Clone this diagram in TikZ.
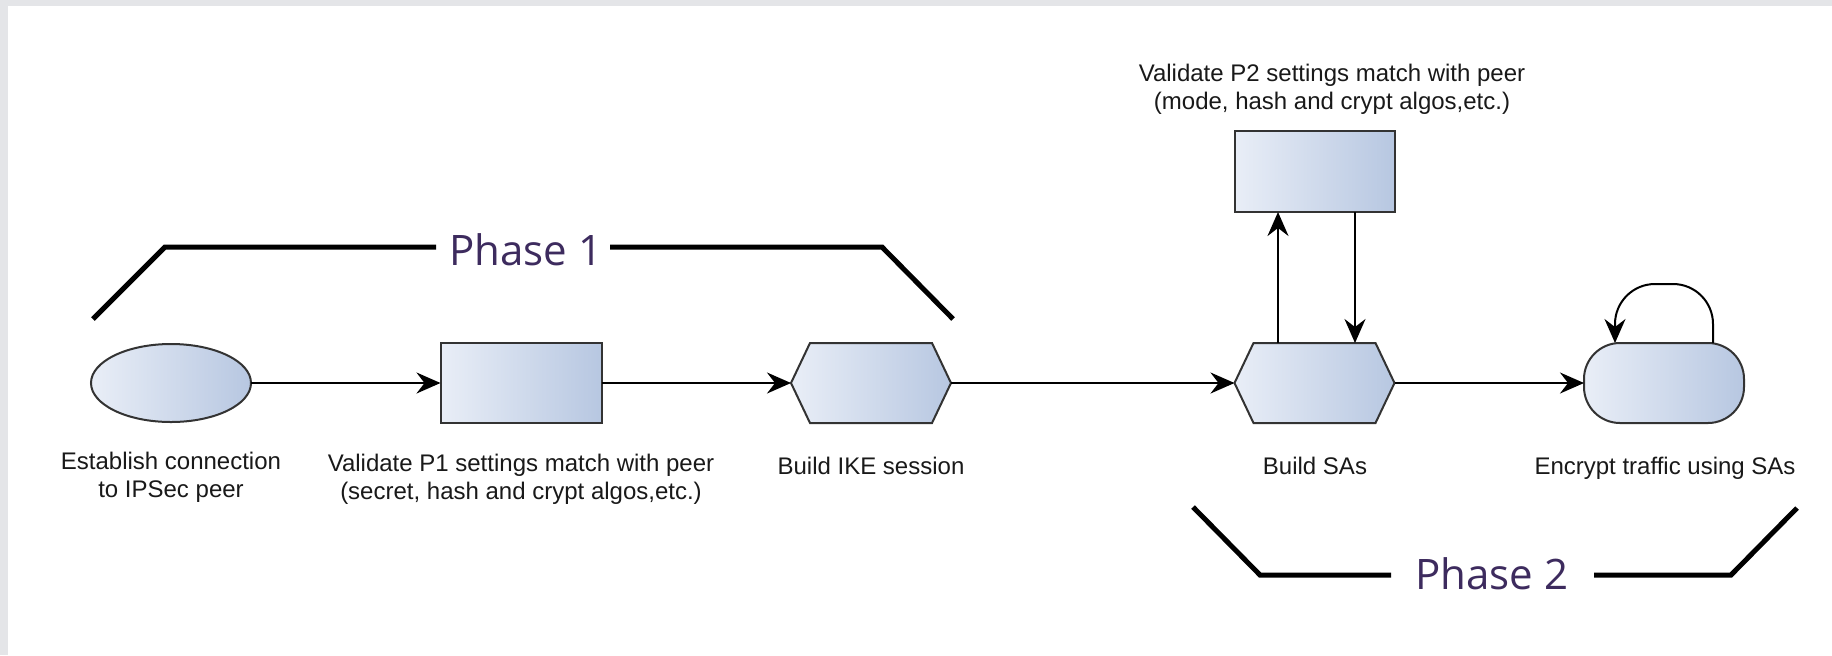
\documentclass[tikz,border=0pt]{standalone}
\usepackage{fontspec}
\setmainfont{Liberation Sans}
\newfontfamily\phasefont{Open Sans}
\usetikzlibrary{shapes.geometric,arrows.meta}

\definecolor{fillA}{HTML}{E9EEF7}
\definecolor{fillB}{HTML}{B7C7E1}
\definecolor{edgegray}{HTML}{333333}
\definecolor{phasepurple}{HTML}{3D2B5E}
\definecolor{framegray}{HTML}{E4E5E8}

\begin{document}
\begin{tikzpicture}[x=0.5pt,y=-0.5pt,
  shapefill/.style={draw=edgegray, line width=1pt, left color=fillA, right color=fillB},
  procbox/.style={shapefill, rectangle, inner sep=0pt, outer sep=0pt, minimum width=80.5pt, minimum height=40pt},
  startoval/.style={shapefill, ellipse, inner sep=0pt, outer sep=0pt, minimum width=80pt, minimum height=39pt},
  hexholder/.style={rectangle, inner sep=0pt, outer sep=0pt, minimum width=80pt, minimum height=40pt},
  pillbox/.style={shapefill, rectangle, rounded corners=18pt, inner sep=0pt, outer sep=0pt, minimum width=80pt, minimum height=40pt},
  arr/.style={-{Stealth[length=12pt,width=10.5pt,inset=4pt]}, line width=1pt, black},
  lbl/.style={font=\fontsize{12pt}{13.8pt}\selectfont, align=center, text=black!90, inner sep=0pt},
  phasetxt/.style={font=\phasefont\fontsize{21pt}{25pt}\selectfont, text=phasepurple, inner sep=0pt, anchor=base},
  bracket/.style={line width=2.5pt, black}
]
% page and frame strips
\useasboundingbox (0,0) rectangle (1832,655);
\fill[white] (0,0) rectangle (1832,655);
\fill[framegray] (0,0) rectangle (1832,6);
\fill[framegray] (0,0) rectangle (8,655);

% main flow
\node[startoval] (est) at (171,383) {};
\node[procbox] (p1) at (521,383) {};
\node[hexholder] (ike) at (871,383) {};
\path[shapefill] (ike.west) -- ([xshift=9.5pt]ike.north west) -- ([xshift=-9.5pt]ike.north east)
  -- (ike.east) -- ([xshift=-9.5pt]ike.south east) -- ([xshift=9.5pt]ike.south west) -- cycle;
\node[hexholder] (sa) at (1314.5,383) {};
\path[shapefill] (sa.west) -- ([xshift=9.5pt]sa.north west) -- ([xshift=-9.5pt]sa.north east)
  -- (sa.east) -- ([xshift=-9.5pt]sa.south east) -- ([xshift=9.5pt]sa.south west) -- cycle;
\node[procbox, minimum width=80pt, minimum height=40.5pt] (p2) at (1314.5,171.5) {};
\node[pillbox] (enc) at (1664,383) {};

% connectors
\draw[arr] (est.east) -- (p1.west);
\draw[arr] (p1.east) -- (ike.west);
\draw[arr] (ike.east) -- (sa.west);
\draw[arr] (sa.east) -- (enc.west);
\draw[arr] ([xshift=-18.25pt]sa.north) -- ([xshift=-18.25pt]p2.south);
\draw[arr] ([xshift=20.25pt]p2.south) -- ([xshift=20.25pt]sa.north);
\draw[arr, rounded corners=20pt] ([xshift=24.5pt]enc.north) -- ++(0,-59) -- ++(-98,0) -- ([xshift=-24.5pt]enc.north);

% labels
\node[lbl] (lest) at (171,477) {Establish connection\\to IPSec peer};
\node[lbl] (lp1) at (521,479) {Validate P1 settings match with peer\\(secret, hash and crypt algos,etc.)};
\node[lbl] (like) at (871,466) {Build IKE session};
\node[lbl] (lsa) at (1315,466) {Build SAs};
\node[lbl] (lenc) at (1665,468) {Encrypt traffic using SAs};
\node[lbl] (lp2) at (1332,89) {Validate P2 settings match with peer\\(mode, hash and crypt algos,etc.)};

% phase brackets
\node[phasetxt] (ph1) at (526,265) {Phase 1};
\draw[bracket] (93,319) -- (165,247) -- (436,247);
\draw[bracket] (610,247) -- (882,247) -- (953,319);
\node[phasetxt] (ph2) at (1492,589) {Phase 2};
\draw[bracket] (1193,507) -- (1260,575) -- (1391,575);
\draw[bracket] (1594,575) -- (1731,575) -- (1797,508);
\end{tikzpicture}
\end{document}
